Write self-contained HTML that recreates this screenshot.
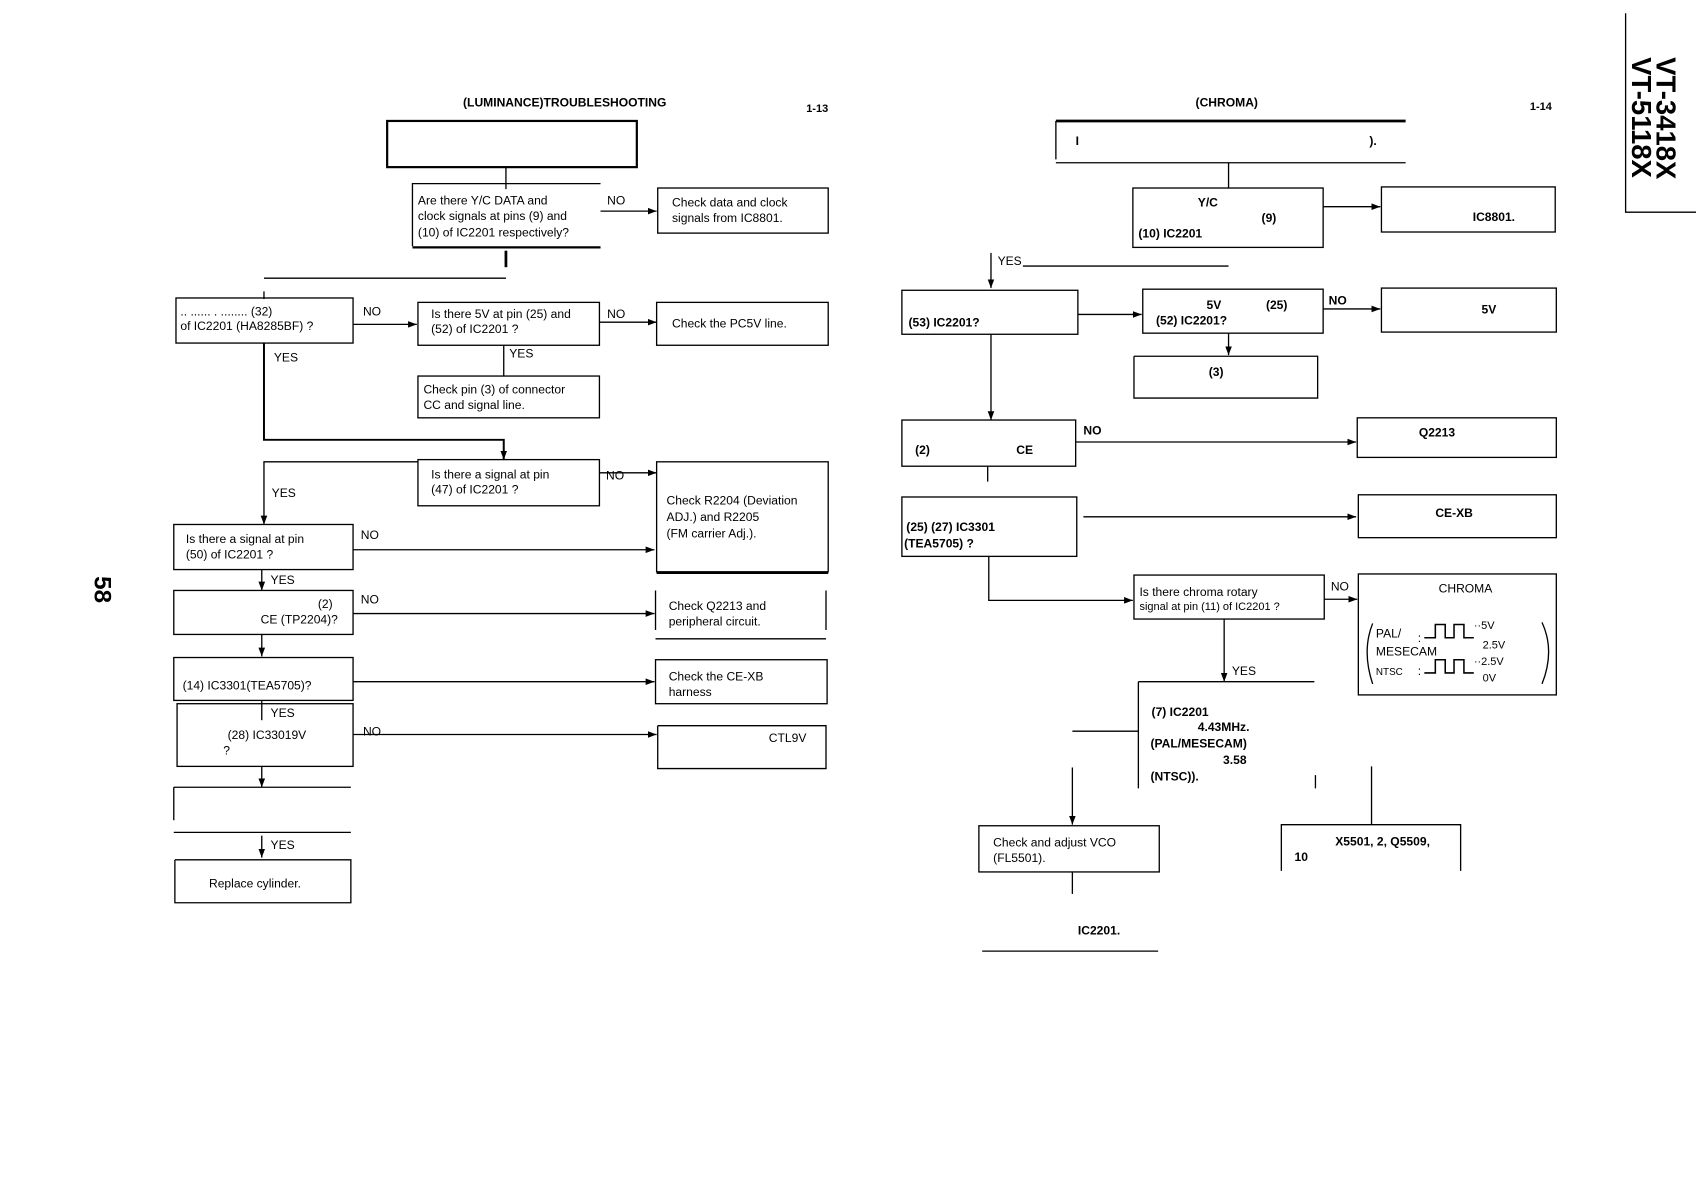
<!DOCTYPE html>
<html><head><meta charset="utf-8"><style>
html,body{margin:0;padding:0;background:#fff;width:1696px;height:1204px;overflow:hidden}
svg{display:block}
text{font-family:"Liberation Sans",sans-serif;font-size:11px;fill:#000}
.b{font-weight:bold}
</style></head><body>
<svg width="1696" height="1204" viewBox="0 0 1542 1095" preserveAspectRatio="none" xmlns="http://www.w3.org/2000/svg">
<defs><marker id="a" markerWidth="8" markerHeight="6" refX="8" refY="3" orient="auto" markerUnits="userSpaceOnUse"><path d="M0,0 L8,3 L0,6z" fill="#000"/></marker></defs>
<g stroke="#000" fill="none" stroke-width="1.2">
<path d="M1478,12 V193 H1542"/>
<rect x="352" y="110" width="227" height="42" stroke-width="2"/>
<path d="M460,152 V172"/>
<path d="M375,224 V167 H546" /><path d="M375,225 H546" stroke-width="2"/>
<path d="M546,192 H597" marker-end="url(#a)"/>
<rect x="598" y="171" width="155" height="41"/>
<path d="M460,228 V243" stroke-width="2.5"/>
<path d="M240,253 H460"/>
<path d="M240,265 V272"/>
<rect x="160" y="271" width="161" height="41"/>
<path d="M321,295 H379" marker-end="url(#a)"/>
<rect x="380" y="275" width="165" height="39"/>
<path d="M545,293 H597" marker-end="url(#a)"/>
<rect x="597" y="275" width="156" height="39"/>
<path d="M458,314 V342"/>
<rect x="380" y="342" width="165" height="38"/>
<path d="M240,312 V400 H458 V418" stroke-width="1.8" marker-end="url(#a)"/>
<rect x="380" y="418" width="165" height="42"/>
<path d="M380,420 H240 V477" marker-end="url(#a)"/>
<path d="M545,430 H597" marker-end="url(#a)"/>
<rect x="597" y="420" width="156" height="100"/><path d="M597,521 H753" stroke-width="2"/>
<rect x="158" y="477" width="163" height="41"/>
<path d="M321,500 H595" marker-end="url(#a)"/>
<path d="M238,518 V537" marker-end="url(#a)"/>
<rect x="158" y="537" width="163" height="40"/>
<path d="M321,558 H595" marker-end="url(#a)"/>
<path d="M596,537 V573 M751,537 V573 M596,581 H751"/>
<path d="M238,577 V597" marker-end="url(#a)"/>
<rect x="158" y="598" width="163" height="39"/>
<path d="M321,620 H595" marker-end="url(#a)"/>
<rect x="596" y="600" width="156" height="40"/>
<path d="M238,637 V655"/>
<rect x="161" y="640" width="160" height="57"/>
<path d="M321,668 H597" marker-end="url(#a)"/>
<path d="M598,660 V699 H751 V660 H598"/>
<path d="M238,697 V716" marker-end="url(#a)"/>
<path d="M158,716 H319 M158,716 V746 M158,757 H319"/>
<path d="M238,760 V780" marker-end="url(#a)"/>
<path d="M159,782 V821 H319 V782 H159"/>
<path d="M960,110 H1278" stroke-width="2.5"/><path d="M960,110 V145 M960,148 H1278"/>
<path d="M1117,148 V171"/>
<rect x="1030" y="171" width="173" height="54"/>
<path d="M1203,188 H1255" marker-end="url(#a)"/>
<rect x="1256" y="170" width="158" height="41"/>
<path d="M901,230 V262" marker-end="url(#a)"/>
<path d="M930,242 H1117"/>
<rect x="820" y="264" width="160" height="40"/>
<path d="M980,286 H1038" marker-end="url(#a)"/>
<rect x="1039" y="263" width="164" height="40"/>
<path d="M1203,281 H1255" marker-end="url(#a)"/>
<rect x="1256" y="262" width="159" height="40"/>
<path d="M1117,303 V323" marker-end="url(#a)"/>
<path d="M1031,324 H1198 V362 H1031 V324"/>
<path d="M901,304 V382" marker-end="url(#a)"/>
<rect x="820" y="382" width="158" height="42"/>
<path d="M978,402 H1233" marker-end="url(#a)"/>
<rect x="1234" y="380" width="181" height="36"/>
<path d="M898,424 V438"/>
<rect x="820" y="452" width="159" height="54"/>
<path d="M985,470 H1233" marker-end="url(#a)"/>
<rect x="1235" y="450" width="180" height="39"/>
<path d="M899,506 V546 H1030" marker-end="url(#a)"/>
<rect x="1031" y="523" width="173" height="40"/>
<path d="M1204,545 H1234" marker-end="url(#a)"/>
<rect x="1235" y="522" width="180" height="110"/>
<path d="M1113,563 V620" marker-end="url(#a)"/>
<path d="M1035,620 H1195 M1035,620 V717 M1035,665 H975 M1196,705 V717"/>
<path d="M975,698 V750" marker-end="url(#a)"/>
<path d="M1247,697 V750"/>
<rect x="890" y="751" width="164" height="42"/>
<path d="M1165,792 V750 H1328 V792"/>
<path d="M975,793 V813"/>
<path d="M893,865 H1053"/>
<path d="M1295,580 H1305 V568 H1314 V580 H1322 V568 H1331 V580 H1340" stroke-width="1.4"/>
<path d="M1295,612 H1305 V600 H1314 V612 H1322 V600 H1331 V612 H1340" stroke-width="1.4"/>
<path d="M1248,567 Q1238,592 1248,622"/>
<path d="M1402,566 Q1414,592 1402,622"/>
</g>
<text x="421" y="97" class="b">(LUMINANCE)TROUBLESHOOTING</text>
<text x="733" y="102" class="b" style="font-size:10px">1-13</text>
<text x="1087" y="97" class="b">(CHROMA)</text>
<text x="1391" y="100" class="b" style="font-size:10px">1-14</text>
<text transform="translate(1506,52) rotate(90)" class="b" style="font-size:25px">VT-3418X</text>
<text transform="translate(1484,52) rotate(90)" class="b" style="font-size:25px">VT-5118X</text>
<text transform="translate(86,524) rotate(90)" class="b" style="font-size:22px">58</text>

<text x="380" y="186">Are there Y/C DATA and</text>
<text x="380" y="200">clock signals at pins (9) and</text>
<text x="380" y="215">(10) of IC2201 respectively?</text>
<text x="552" y="186">NO</text>
<text x="611" y="188">Check data and clock</text>
<text x="611" y="202">signals from IC8801.</text>
<text x="164" y="287">.. ...... . ........ (32)</text>
<text x="164" y="300">of IC2201 (HA8285BF) ?</text>
<text x="330" y="287">NO</text>
<text x="392" y="289">Is there 5V at pin (25) and</text>
<text x="392" y="303">(52)  of  IC2201 ?</text>
<text x="552" y="289">NO</text>
<text x="611" y="298">Check the PC5V line.</text>
<text x="463" y="325">YES</text>
<text x="249" y="329">YES</text>
<text x="385" y="358">Check pin (3) of connector</text>
<text x="385" y="372">CC and signal line.</text>
<text x="392" y="435">Is there a signal at pin</text>
<text x="392" y="449">(47) of IC2201 ?</text>
<text x="551" y="436">NO</text>
<text x="606" y="459">Check R2204 (Deviation</text>
<text x="606" y="474">ADJ.) and R2205</text>
<text x="606" y="489">(FM carrier Adj.).</text>
<text x="247" y="452">YES</text>
<text x="169" y="494">Is there a signal at pin</text>
<text x="169" y="508">(50) of IC2201 ?</text>
<text x="328" y="490">NO</text>
<text x="246" y="531">YES</text>
<text x="289" y="553">(2)</text>
<text x="237" y="567">CE (TP2204)?</text>
<text x="328" y="549">NO</text>
<text x="608" y="555">Check Q2213 and</text>
<text x="608" y="569">peripheral circuit.</text>
<text x="166" y="627">(14)    IC3301(TEA5705)?</text>
<text x="608" y="619">Check  the CE-XB</text>
<text x="608" y="633">harness</text>
<text x="246" y="652">YES</text>
<text x="207" y="672">(28)    IC33019V</text>
<text x="203" y="686">?</text>
<text x="330" y="669">NO</text>
<text x="699" y="675">CTL9V</text>
<text x="246" y="772">YES</text>
<text x="190" y="807">Replace cylinder.</text>

<text x="978" y="132" class="b">I</text>
<text x="1245" y="132" class="b">).</text>
<text x="1089" y="188" class="b">Y/C</text>
<text x="1147" y="202" class="b">(9)</text>
<text x="1035" y="216" class="b">(10)    IC2201</text>
<text x="1339" y="201" class="b">IC8801.</text>
<text x="907" y="241">YES</text>
<text x="826" y="297" class="b">(53)    IC2201?</text>
<text x="1097" y="281" class="b">5V</text>
<text x="1151" y="281" class="b">(25)</text>
<text x="1051" y="295" class="b">(52)    IC2201?</text>
<text x="1208" y="277" class="b">NO</text>
<text x="1347" y="285" class="b">5V</text>
<text x="1099" y="342" class="b">(3)</text>
<text x="832" y="413" class="b">(2)</text>
<text x="924" y="413" class="b">CE</text>
<text x="985" y="395" class="b">NO</text>
<text x="1290" y="397" class="b">Q2213</text>
<text x="824" y="483" class="b">(25)      (27)     IC3301</text>
<text x="822" y="498" class="b">(TEA5705) ?</text>
<text x="1305" y="470" class="b">CE-XB</text>
<text x="1036" y="542">Is there chroma rotary</text>
<text x="1036" y="555" style="font-size:10px">signal at pin (11) of IC2201 ?</text>
<text x="1210" y="537">NO</text>
<text x="1308" y="539">CHROMA</text>
<text x="1251" y="580">PAL/</text>
<text x="1251" y="596">MESECAM</text>
<text x="1251" y="614" style="font-size:9px">NTSC</text>
<text x="1289" y="584">:</text><text x="1289" y="614">:</text>
<text x="1340" y="572" style="font-size:10px">··5V</text>
<text x="1348" y="590" style="font-size:10px">2.5V</text>
<text x="1340" y="605" style="font-size:10px">··2.5V</text>
<text x="1348" y="620" style="font-size:10px">0V</text>
<text x="1120" y="614">YES</text>
<text x="1047" y="651" class="b">(7)    IC2201</text>
<text x="1089" y="665" class="b">4.43MHz.</text>
<text x="1046" y="680" class="b">(PAL/MESECAM)</text>
<text x="1112" y="695" class="b">3.58</text>
<text x="1046" y="710" class="b">(NTSC)).</text>
<text x="903" y="770">Check and adjust VCO</text>
<text x="903" y="784">(FL5501).</text>
<text x="1214" y="769" class="b">X5501, 2, Q5509,</text>
<text x="1177" y="783" class="b">10</text>
<text x="980" y="850" class="b">IC2201.</text>
</svg>
</body></html>
